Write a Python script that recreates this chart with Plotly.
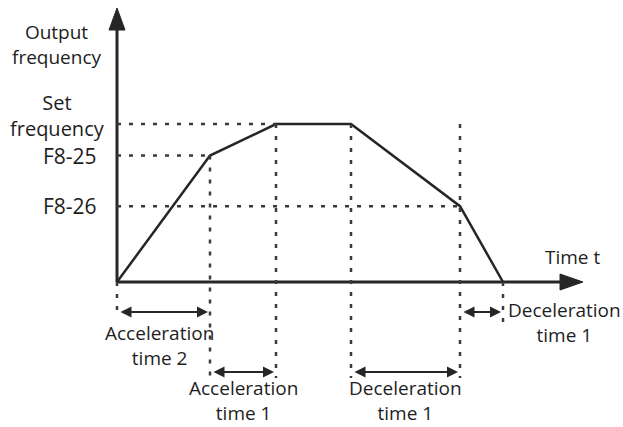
import plotly.graph_objects as go

# Speed profile: breakpoint times (arbitrary time units) and frequency levels (Hz)
t_points = [0, 9.3, 15.9, 23.4, 34.3, 38.6]
f_set = 50
f_825 = 40
f_826 = 24
f_points = [0, f_825, f_set, f_set, f_826, 0]

level_names = ["Set<br>frequency", "F8-25", "F8-26"]
level_values = [f_set, f_825, f_826]

# Interval labels: (start index, end index, text, row)
intervals = [
    (0, 1, "Acceleration<br>time 2", "upper"),
    (1, 2, "Acceleration<br>time 1", "lower"),
    (3, 4, "Deceleration<br>time 1", "lower"),
    (4, 5, "Deceleration<br>time 1", "upper"),
]

W, H = 623, 427
X0, X1 = -11.7, 50.6          # time-axis range
PX_X = W / (X1 - X0)          # pixels per time unit
PX_Y = 3.16                   # pixels per Hz
Y1 = 282 / PX_Y
Y0 = -(H - 282) / PX_Y

INK = "#262626"
DOT = "#3a3a3a"
TXT = "#1e1e1e"
FONT = "Open Sans"

def dx(px):
    return px / PX_X

def dy(px):
    return px / PX_Y

def text_block(x, y, txt, size, yshift=0, xshift=0):
    return dict(x=x, y=y, xref="x", yref="y", text=txt, showarrow=False,
                xanchor="center", yanchor="middle", align="center",
                yshift=yshift, xshift=xshift, borderpad=0,
                font=dict(family=FONT, size=size, color=TXT))

fig = go.Figure()

shapes = []
annotations = []

# Axes with filled arrowheads
x_tip = 46.6
y_tip = 86.7
head_len_x, head_half_x = dx(23), dy(8)
head_len_y, head_half_y = dy(22), dx(8)
shapes.append(dict(type="line", x0=0, y0=0, x1=x_tip - head_len_x, y1=0,
                   line=dict(color=INK, width=3)))
shapes.append(dict(type="line", x0=0, y0=0, x1=0, y1=y_tip - head_len_y,
                   line=dict(color=INK, width=3)))
fig.add_trace(go.Scatter(
    x=[x_tip - head_len_x, x_tip, x_tip - head_len_x, x_tip - head_len_x],
    y=[head_half_x, 0, -head_half_x, head_half_x],
    mode="lines", fill="toself", fillcolor=INK, line=dict(color=INK, width=1),
    hoverinfo="skip", showlegend=False))
fig.add_trace(go.Scatter(
    x=[-head_half_y, 0, head_half_y, -head_half_y],
    y=[y_tip - head_len_y, y_tip, y_tip - head_len_y, y_tip - head_len_y],
    mode="lines", fill="toself", fillcolor=INK, line=dict(color=INK, width=1),
    hoverinfo="skip", showlegend=False))

# Guide levels for the arrows below the time axis
upper_row = -dy(30)
lower_row = -dy(90)
guide_bottom = -dy(96)

dot_style = dict(color=DOT, width=2.5, dash="4px,8px")

# Horizontal dotted guides from the frequency axis to each level's breakpoint
shapes.append(dict(type="line", x0=0, x1=t_points[2], y0=f_set, y1=f_set, line=dot_style))
shapes.append(dict(type="line", x0=0, x1=t_points[1], y0=f_825, y1=f_825, line=dot_style))
shapes.append(dict(type="line", x0=0, x1=t_points[4], y0=f_826, y1=f_826, line=dot_style))

# Vertical dotted guides at each breakpoint
shapes.append(dict(type="line", x0=t_points[0], x1=t_points[0], y0=0, y1=upper_row, line=dot_style))
shapes.append(dict(type="line", x0=t_points[1], x1=t_points[1], y0=f_825, y1=guide_bottom, line=dot_style))
shapes.append(dict(type="line", x0=t_points[2], x1=t_points[2], y0=f_set, y1=guide_bottom, line=dot_style))
shapes.append(dict(type="line", x0=t_points[3], x1=t_points[3], y0=f_set, y1=guide_bottom, line=dot_style))
shapes.append(dict(type="line", x0=t_points[4], x1=t_points[4], y0=f_set, y1=guide_bottom, line=dot_style))
shapes.append(dict(type="line", x0=t_points[5], x1=t_points[5], y0=0, y1=-dy(46), line=dot_style))

# Output frequency profile
fig.add_trace(go.Scatter(x=t_points, y=f_points, mode="lines",
                         line=dict(color=INK, width=2.5),
                         hoverinfo="skip", showlegend=False))

# Interval double arrows and their labels
for i0, i1, label, row in intervals:
    ya = upper_row if row == "upper" else lower_row
    annotations.append(dict(
        x=t_points[i1], y=ya, ax=t_points[i0], ay=ya,
        xref="x", yref="y", axref="x", ayref="y",
        text="", showarrow=True, arrowside="end+start",
        arrowhead=2, arrowsize=1.1, arrowwidth=2, arrowcolor=INK,
        standoff=2, startstandoff=2))
    if row == "upper" and i0 == 4:
        # short interval: label sits to the right of the arrow
        cx = t_points[i1] + dx(61)
        cy = ya - dy(10)
        xs = 0
    elif row == "upper":
        cx = (t_points[i0] + t_points[i1]) / 2
        cy = ya - dy(33)
        xs = -4
    else:
        cx = (t_points[i0] + t_points[i1]) / 2
        cy = ya - dy(28)
        xs = 0
    annotations.append(text_block(cx, cy, label, 19, xshift=xs))

# Frequency level labels
label_x = -dx(47)
for name, val in zip(level_names, level_values):
    if "<br>" in name:
        annotations.append(text_block(label_x - dx(13), val, name, 20, yshift=9))
    else:
        annotations.append(text_block(label_x, val, name, 21))

# Axis titles
annotations.append(text_block(-dx(60), y_tip - dy(36), "Output<br>frequency", 19))
annotations.append(text_block(x_tip - dx(11), dy(25), "Time t", 19))

fig.update_layout(
    width=W, height=H,
    margin=dict(l=0, r=0, t=0, b=0),
    paper_bgcolor="white", plot_bgcolor="white",
    shapes=shapes, annotations=annotations,
    xaxis=dict(range=[X0, X1], visible=False, fixedrange=True),
    yaxis=dict(range=[Y0, Y1], visible=False, fixedrange=True),
    showlegend=False,
)

fig.write_html("out.html")
